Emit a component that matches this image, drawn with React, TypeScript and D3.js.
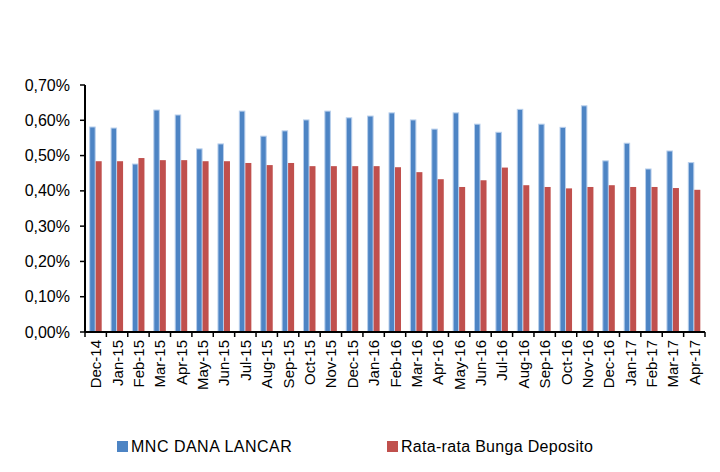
import React from 'react';
import * as d3 from 'd3';

const months = [
  'Dec-14', 'Jan-15', 'Feb-15', 'Mar-15', 'Apr-15', 'May-15', 'Jun-15', 'Jul-15', 'Aug-15', 'Sep-15',
  'Oct-15', 'Nov-15', 'Dec-15', 'Jan-16', 'Feb-16', 'Mar-16', 'Apr-16', 'May-16', 'Jun-16', 'Jul-16',
  'Aug-16', 'Sep-16', 'Oct-16', 'Nov-16', 'Dec-16', 'Jan-17', 'Feb-17', 'Mar-17', 'Apr-17',
];

// MNC DANA LANCAR (% per month)
const danaLancar = [
  0.581, 0.578, 0.476, 0.629, 0.615, 0.519, 0.533, 0.626, 0.555, 0.570,
  0.601, 0.626, 0.607, 0.612, 0.621, 0.601, 0.575, 0.621, 0.589, 0.566,
  0.631, 0.589, 0.580, 0.641, 0.485, 0.535, 0.462, 0.513, 0.480,
];

// Rata-rata Bunga Deposito (% per month)
const bungaDeposito = [
  0.484, 0.484, 0.493, 0.487, 0.487, 0.484, 0.484, 0.479, 0.473, 0.479,
  0.470, 0.470, 0.470, 0.470, 0.467, 0.453, 0.433, 0.411, 0.430, 0.466,
  0.416, 0.411, 0.407, 0.411, 0.416, 0.411, 0.411, 0.408, 0.403,
];

const yTicks = [0, 0.1, 0.2, 0.3, 0.4, 0.5, 0.6, 0.7];
const seriesNames = ['MNC DANA LANCAR', 'Rata-rata Bunga Deposito'];

const W = 720;
const H = 472;
const left = 85;
const right = 705;
const top = 85;
const bottom = 332;
const font = '"Liberation Sans", Arial, sans-serif';
const BLUE = '#4d84c4';
const RED = '#c0504d';

export default function App() {
  const x = d3.scaleBand<string>().domain(months).range([left, right]).paddingInner(0).paddingOuter(0);
  const y = d3.scaleLinear().domain([0, 0.7]).range([bottom, top]);
  const inner = d3.scaleBand<string>().domain(['a', 'b']).range([0, x.bandwidth()]).paddingInner(0).paddingOuter(0.78);
  const bw = inner.bandwidth();
  const fmt = (v: number) => d3.format('.2f')(v).replace('.', ',') + '%';

  return (
    <svg width={W} height={H} style={{ position: 'absolute', left: 0, top: 0, background: '#fff' }}>
      {months.map((m, i) => (
        <g key={m}>
          <rect
            x={(x(m) as number) + (inner('a') as number)}
            y={y(danaLancar[i])}
            width={bw - 0.5}
            height={bottom - y(danaLancar[i])}
            fill={BLUE}
            stroke="#b8cfec"
            strokeWidth={1}
          />
          <rect
            x={(x(m) as number) + (inner('b') as number)}
            y={y(bungaDeposito[i])}
            width={bw}
            height={bottom - y(bungaDeposito[i])}
            fill={RED}
          />
        </g>
      ))}

      {/* y axis */}
      <line x1={left} x2={left} y1={top} y2={bottom} stroke="#000" strokeWidth={2} />
      {yTicks.map((t) => (
        <g key={t}>
          <line x1={left - 5} x2={left} y1={y(t)} y2={y(t)} stroke="#000" strokeWidth={1.5} />
          <text x={70} y={y(t) + 5.5} textAnchor="end" fontFamily={font} fontSize={16} fill="#000">
            {fmt(t)}
          </text>
        </g>
      ))}

      {/* x axis */}
      <line x1={left} x2={right} y1={bottom} y2={bottom} stroke="#000" strokeWidth={2} />
      {[...months, null].map((m, i) => {
        const xx = m ? (x(m) as number) : right;
        return <line key={'t' + i} x1={xx} x2={xx} y1={bottom} y2={bottom + 5} stroke="#000" strokeWidth={1.5} />;
      })}
      {months.map((m) => {
        const cx = (x(m) as number) + x.bandwidth() / 2 + 5.5;
        const cy = 340;
        return (
          <text
            key={'l' + m}
            transform={`translate(${cx},${cy}) rotate(-90)`}
            textAnchor="end"
            fontFamily={font}
            fontSize={15}
            fill="#000"
          >
            {m}
          </text>
        );
      })}

      {/* legend */}
      <rect x={117} y={441} width={11} height={11} fill={BLUE} />
      <text x={131} y={452} fontFamily={font} fontSize={16} letterSpacing={0.5} fill="#000">{seriesNames[0]}</text>
      <rect x={387} y={441} width={11} height={11} fill={RED} />
      <text x={401} y={452} fontFamily={font} fontSize={16} letterSpacing={0.3} fill="#000">{seriesNames[1]}</text>
    </svg>
  );
}
